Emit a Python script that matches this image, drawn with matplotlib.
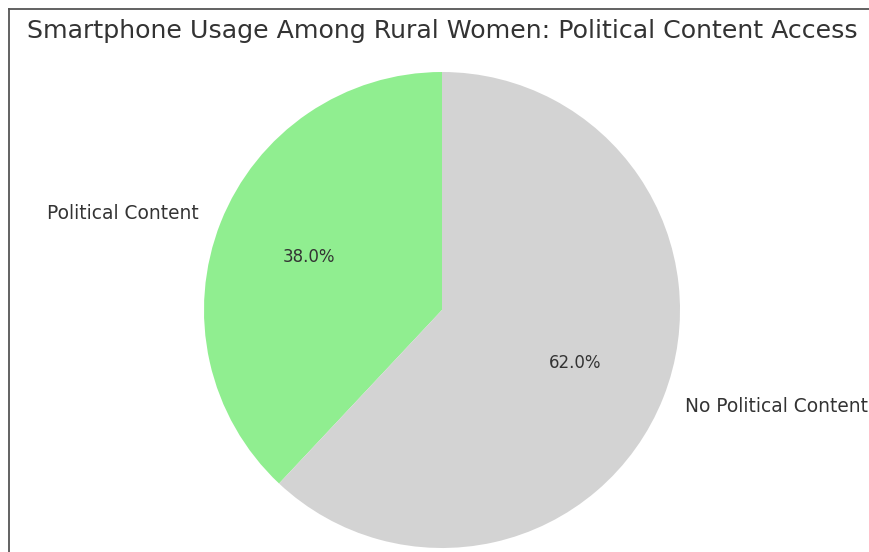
import matplotlib
matplotlib.use("Agg")
import matplotlib.pyplot as plt
from matplotlib.lines import Line2D

plt.rcParams["font.family"] = ["DejaVu Sans"]

labels = ["Political Content", "No Political Content"]
values = [38.0, 62.0]
colors = ["#90ee90", "#d3d3d3"]
title = "Smartphone Usage Among Rural Women: Political Content Access"

W, H = 869, 552
fig = plt.figure(figsize=(W / 100, H / 100), dpi=100)
fig.patch.set_facecolor("white")

# partial frame (left and top edges visible)
fx = 8.5 / W
fy = 1 - 8.5 / H
fig.add_artist(Line2D([fx, fx], [0, fy], transform=fig.transFigure, color="#555555", lw=1.3))
fig.add_artist(Line2D([fx, 1], [fy, fy], transform=fig.transFigure, color="#555555", lw=1.3))

cx, cy, r = 442, 310, 238
ax = fig.add_axes([(cx - r) / W, (H - cy - r) / H, 2 * r / W, 2 * r / H])
wedges, texts, autotexts = ax.pie(values, labels=labels, colors=colors, autopct="%1.1f%%",
                                  startangle=90, textprops={"fontsize": 13.4, "color": "#333333"})
for t in autotexts:
    t.set_fontsize(12)
    t.set_color("#333333")
ax.set_xlim(-1, 1)
ax.set_ylim(-1, 1)
ax.set_aspect("equal")
ax.axis("off")

fig.text(442 / W, 1 - 31 / H, title, ha="center", va="center", fontsize=18.2, color="#333333")

fig.savefig("out.png", dpi=100)
